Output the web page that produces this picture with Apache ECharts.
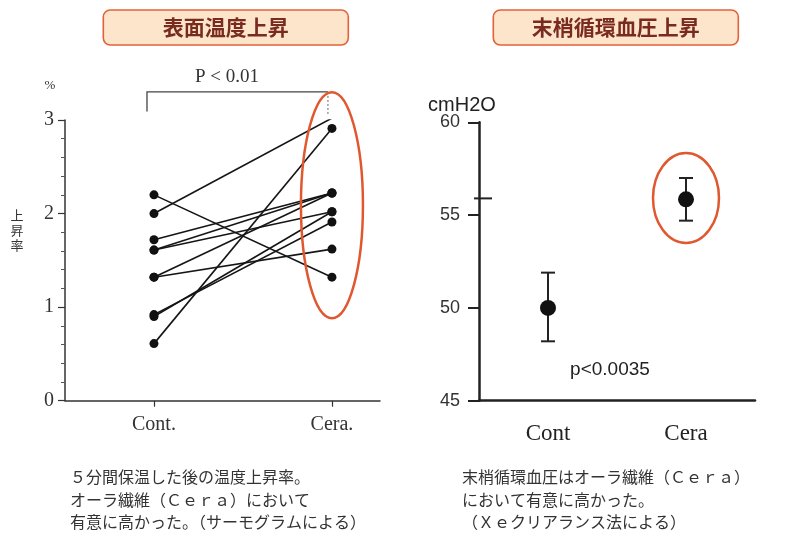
<!DOCTYPE html>
<html>
<head>
<meta charset="utf-8">
<script src="https://cdn.jsdelivr.net/npm/echarts@6/dist/echarts.min.js"></script>
<style>
html,body{margin:0;padding:0;background:#fff;}
#main{width:800px;height:542px;}
</style>
</head>
<body>
<div id="main"></div>
<script>
// ---------- data ----------
const leftCategories = ['Cont.', 'Cera.'];
const contValues = [2.2, 2.0, 1.72, 1.61, 1.61, 1.32, 1.32, 0.9, 0.92, 0.61];
const ceraValues = [1.32, 3.02, 2.22, 2.22, 2.02, 2.22, 1.62, 2.02, 1.91, 2.91];
const leftTicks = [0, 1, 2, 3];

const rightCategories = ['Cont', 'Cera'];
const rightMeans = [50.0, 55.85];
const rightLower = [48.2, 54.7];
const rightUpper = [51.9, 57.0];
const rightTicks = [45, 50, 55, 60];

const leftTitle = '表面温度上昇';
const rightTitle = '末梢循環血圧上昇';
const leftCaption = ['５分間保温した後の温度上昇率。', 'オーラ繊維（Ｃｅｒａ）において', '有意に高かった。（サーモグラムによる）'];
const rightCaption = ['末梢循環血圧はオーラ繊維（Ｃｅｒａ）', 'において有意に高かった。', '（Ｘｅクリアランス法による）'];

// ---------- chart ----------
const chart = echarts.init(document.getElementById('main'), null, {renderer: 'canvas'});
const ink = '#151515';
const red = '#e0582f';
const serif = '"Liberation Serif", "DejaVu Serif", serif';
const sans = '"Liberation Sans", Arial, sans-serif';
const jp = '"Noto Sans CJK JP", sans-serif';
const rightGridLeft = 479;

const pairSeries = contValues.map((c, i) => ({
  type: 'line',
  xAxisIndex: 0, yAxisIndex: 0,
  data: [[0, c], [1, ceraValues[i]]],
  symbol: 'circle', symbolSize: 9,
  lineStyle: {color: ink, width: 1.6},
  itemStyle: {color: '#111', opacity: 1},
  silent: true, z: 3
}));

chart.setOption({
  animation: false,
  backgroundColor: '#fff',
  grid: [
    {left: 65, top: 120, width: 315, height: 280.7},
    {left: rightGridLeft, top: 122.3, width: 276, height: 278.4}
  ],
  xAxis: [
    {
      gridIndex: 0, type: 'value', min: -0.5, max: 1.27,
      splitLine: {show: false},
      axisLine: {onZero: false, lineStyle: {color: '#333', width: 1.5}},
      axisTick: {customValues: [0, 1], length: 6, lineStyle: {color: '#333', width: 1.2}},
      axisLabel: {customValues: [0, 1], formatter: v => leftCategories[Math.round(v)] || '',
        fontFamily: serif, fontSize: 20, color: '#333', margin: 14}
    },
    {
      gridIndex: 1, type: 'category', data: rightCategories, boundaryGap: true,
      axisLine: {onZero: false, lineStyle: {color: '#222', width: 2.5}},
      axisTick: {alignWithLabel: true, length: 6, lineStyle: {color: '#222', width: 1.5}},
      axisLabel: {fontFamily: serif, fontSize: 23, color: '#222', margin: 22}
    }
  ],
  yAxis: [
    {
      gridIndex: 0, type: 'value', min: 0, max: 3, interval: 1,
      splitLine: {show: false},
      axisLine: {show: true, onZero: false, lineStyle: {color: '#333', width: 1.5}},
      axisTick: {show: true, length: 7, lineStyle: {color: '#333', width: 1.2}},
      minorTick: {show: true, splitNumber: 5, length: 4, lineStyle: {color: '#555', width: 1}},
      axisLabel: {fontFamily: serif, fontSize: 20, color: '#333', margin: 11,
        formatter: v => leftTicks.includes(v) ? String(v) : ''}
    },
    {
      gridIndex: 1, type: 'value', min: 45, max: 60, interval: 5,
      splitLine: {show: false},
      axisLine: {show: true, onZero: false, lineStyle: {color: '#222', width: 2.5}},
      axisTick: {show: true, length: 11, lineStyle: {color: '#222', width: 2}},
      axisLabel: {fontFamily: sans, fontSize: 18, color: '#333', margin: 19,
        formatter: v => rightTicks.includes(v) ? String(v) : ''}
    }
  ],
  series: pairSeries.concat([
    {
      type: 'custom', xAxisIndex: 1, yAxisIndex: 1,
      data: rightCategories.map((c, i) => [i, rightLower[i], rightUpper[i]]),
      encode: {x: 0, y: [1, 2]},
      renderItem: function (params, api) {
        const x = api.value(0);
        const lo = api.coord([x, api.value(1)]);
        const hi = api.coord([x, api.value(2)]);
        const w = 7;
        const st = {stroke: '#222', lineWidth: 2};
        return {type: 'group', children: [
          {type: 'line', shape: {x1: lo[0], y1: lo[1], x2: hi[0], y2: hi[1]}, style: st},
          {type: 'line', shape: {x1: lo[0] - w, y1: lo[1], x2: lo[0] + w, y2: lo[1]}, style: st},
          {type: 'line', shape: {x1: hi[0] - w, y1: hi[1], x2: hi[0] + w, y2: hi[1]}, style: st}
        ]};
      },
      silent: true, z: 2
    },
    {
      type: 'scatter', xAxisIndex: 1, yAxisIndex: 1,
      data: rightMeans.map((m, i) => [i, m]),
      symbol: 'circle', symbolSize: 16,
      itemStyle: {color: '#111', opacity: 1}, silent: true, z: 3
    }
  ])
});

// ---------- annotations positioned through the scales ----------
const L = (x, y) => chart.convertToPixel({gridIndex: 0}, [x, y]);
const R = (x, y) => chart.convertToPixel({gridIndex: 1}, [x, y]);

const lContTop = L(0, 3.3), lCeraTop = L(1, 3.3), lContLeg = L(0, 3.09), lCeraLeg = L(1, 3.02);
const lOrigin = L(-0.5, 0);
const lEll = L(1, 2.09);
const rEll = R(1, 55.92);
const stray = R(0, 55.9);

function titleBox(x1, x2, text) {
  return [
    {type: 'rect', shape: {x: x1, y: 10, width: x2 - x1, height: 35, r: 7},
      style: {fill: '#fde5cb', stroke: '#e2623a', lineWidth: 1.6}, z: 10},
    {type: 'text', x: (x1 + x2) / 2, y: 27.5,
      style: {text: text, font: 'bold 21px ' + jp, fill: '#7a2b1f', align: 'center', verticalAlign: 'middle'}, z: 11}
  ];
}
function caption(x, lines) {
  return lines.map((t, i) => ({type: 'text', x: x, y: 477 + i * 22.5,
    style: {text: t, font: '16px ' + jp, fill: '#333', verticalAlign: 'middle'}, z: 10}));
}

const g = [].concat(
  titleBox(103.3, 348.3, leftTitle),
  titleBox(493.3, 738.3, rightTitle),
  caption(70, leftCaption),
  caption(462, rightCaption),
  [
    // bracket
    {type: 'polyline', shape: {points: [[lContTop[0] - 7, lContLeg[1]], [lContTop[0] - 7, lContTop[1]], [lCeraTop[0] - 4, lCeraTop[1]]]},
      style: {stroke: '#444', lineWidth: 1.3, fill: null}, z: 5},
    {type: 'line', shape: {x1: lCeraTop[0] - 4, y1: lCeraTop[1], x2: lCeraTop[0] - 4, y2: lCeraLeg[1] - 4},
      style: {stroke: '#666', lineWidth: 1, lineDash: [2, 2]}, z: 5},
    {type: 'text', x: (lContTop[0] + lCeraTop[0]) / 2 - 16, y: lContTop[1] - 15,
      style: {text: 'P < 0.01', font: '19px ' + serif, fill: '#333', align: 'center', verticalAlign: 'middle'}, z: 5},
    {type: 'text', x: lOrigin[0] - 15, y: 86,
      style: {text: '%', font: '13px ' + serif, fill: '#333', align: 'center', verticalAlign: 'middle'}, z: 5},
    {type: 'text', x: 17, y: 230,
      style: {text: '上\n昇\n率', font: '13px ' + jp, lineHeight: 15, fill: '#333', align: 'center', verticalAlign: 'middle'}, z: 5},
    // ellipses
    {type: 'ellipse', shape: {cx: lEll[0], cy: lEll[1], rx: 31, ry: 113},
      style: {stroke: red, lineWidth: 2.5, fill: null}, z: 6},
    {type: 'ellipse', shape: {cx: rEll[0], cy: rEll[1], rx: 33, ry: 45},
      style: {stroke: red, lineWidth: 2.5, fill: null}, z: 6},
    // right chart texts
    {type: 'text', x: 462, y: 105,
      style: {text: 'cmH2O', font: '20px ' + sans, fill: '#222', align: 'center', verticalAlign: 'middle'}, z: 5},
    {type: 'text', x: 610, y: 370,
      style: {text: 'p<0.0035', font: '19px ' + sans, fill: '#222', align: 'center', verticalAlign: 'middle'}, z: 5},
    // stray tick on right axis
    {type: 'line', shape: {x1: rightGridLeft - 5, y1: stray[1], x2: rightGridLeft + 13, y2: stray[1]},
      style: {stroke: '#222', lineWidth: 2}, z: 5}
  ]
);
chart.setOption({graphic: g});
</script>
</body>
</html>
